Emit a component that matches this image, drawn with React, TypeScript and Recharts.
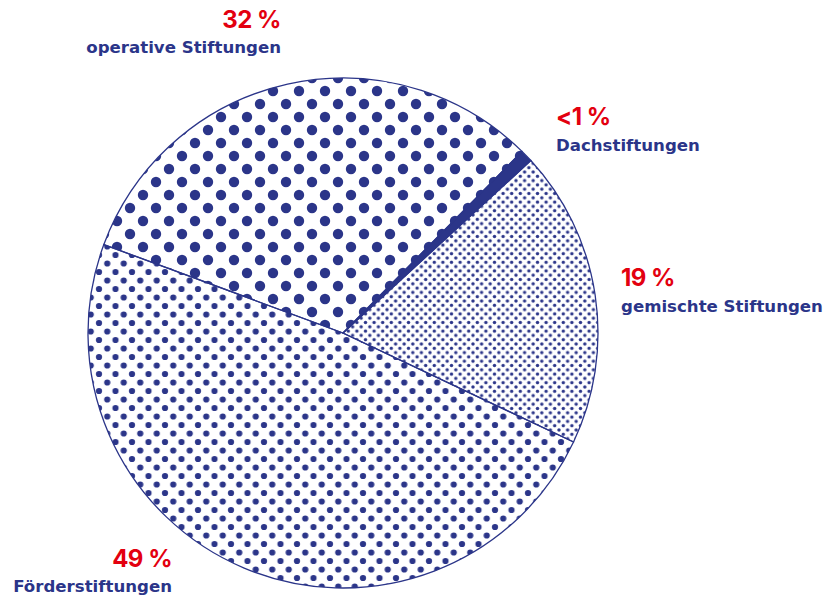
import { Cell, Pie, PieChart } from "recharts";

const categories = ["gemischte Stiftungen", "Dachstiftungen", "operative Stiftungen", "Förderstiftungen"];
const shares = [19, 0.8, 32, 49];
const shareLabels = ["19 %", "<1 %", "32 %", "49 %"];

const NAVY = "#2b3589";
const RED = "#e3000f";
const fills = ["url(#dotsSmall)", NAVY, "url(#dotsLarge)", "url(#dotsMedium)"];

const data = categories.map((name, i) => ({ name, value: shares[i] }));

// label placement: [x, numberBaseline, nameBaseline, anchor]
const labelSpots: [number, number, number, "start" | "end"][] = [
  [621, 286, 312, "start"],
  [556, 125, 151, "start"],
  [281, 28, 53, "end"],
  [172, 567, 592, "end"],
];

function DotPattern({ id, w, h, r }: { id: string; w: number; h: number; r: number }) {
  return (
    <pattern id={id} patternUnits="userSpaceOnUse" width={w} height={h}>
      <circle cx={0} cy={0} r={r} fill={NAVY} />
      <circle cx={w} cy={0} r={r} fill={NAVY} />
      <circle cx={0} cy={h} r={r} fill={NAVY} />
      <circle cx={w} cy={h} r={r} fill={NAVY} />
      <circle cx={w / 2} cy={h / 2} r={r} fill={NAVY} />
    </pattern>
  );
}

export default function App() {
  return (
    <div style={{ position: "absolute", left: 0, top: 0, width: 827, height: 598, background: "#fff" }}>
      <PieChart width={827} height={598} margin={{ top: 0, right: 0, bottom: 0, left: 0 }}>
        <defs>
          <DotPattern id="dotsLarge" w={26} h={26} r={5.2} />
          <DotPattern id="dotsMedium" w={16.5} h={17} r={3.1} />
          <DotPattern id="dotsSmall" w={8.6} h={8.6} r={1.7} />
        </defs>
        <Pie
          data={data}
          dataKey="value"
          nameKey="name"
          cx={343}
          cy={333}
          outerRadius={255}
          startAngle={-25.3}
          endAngle={334.7}
          stroke={NAVY}
          strokeWidth={1.3}
          isAnimationActive={false}
          label={false}
          labelLine={false}
        >
          {data.map((d, i) => (
            <Cell key={d.name} fill={fills[i]} />
          ))}
        </Pie>
      </PieChart>
      <svg
        width={827}
        height={598}
        style={{ position: "absolute", left: 0, top: 0, pointerEvents: "none" }}
      >
        {labelSpots.map(([x, y1, y2, anchor], i) => (
          <g key={categories[i]} fontWeight={700}>
            <text
              x={x}
              y={y1}
              textAnchor={anchor}
              fill={RED}
              fontSize={24}
              fontFamily="Inter, sans-serif"
              letterSpacing={-0.5}
            >
              {shareLabels[i]}
            </text>
            <text
              x={x}
              y={y2}
              textAnchor={anchor}
              fill={NAVY}
              fontSize={16.6}
              fontFamily="'DejaVu Sans', sans-serif"
            >
              {categories[i]}
            </text>
          </g>
        ))}
      </svg>
    </div>
  );
}
